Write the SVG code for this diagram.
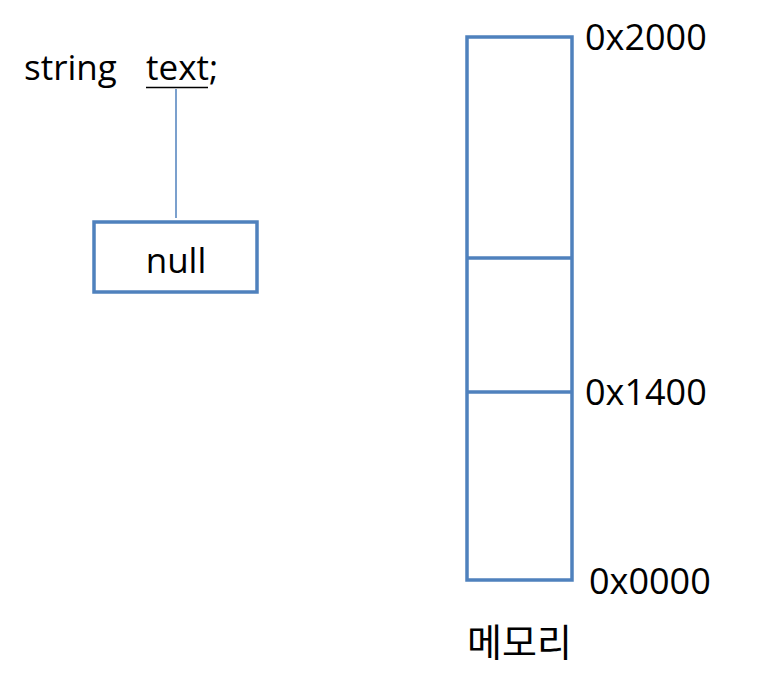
<svg xmlns="http://www.w3.org/2000/svg" width="774" height="687" viewBox="0 0 774 687">
<style>
.t{font-family:"Open Sans","Noto Sans CJK KR",sans-serif;font-size:35px;fill:#000}
.h{font-family:"Open Sans","Noto Sans CJK KR",sans-serif;font-size:36px;fill:#000}
.k{font-family:"Noto Sans CJK KR",sans-serif;font-size:38px;fill:#000}
.box{fill:#fff;stroke:#4F81BD;stroke-width:3.5}
.ln{stroke:#4F81BD;stroke-width:3.5;fill:none}
.thin{stroke:#4F81BD;stroke-width:1.5;fill:none}
</style>
<rect width="774" height="687" fill="#fff"/>
<g id="declaration">
<text class="t" x="24" y="80">string</text>
<text class="t" x="146" y="80">text;</text>
<line x1="146" y1="87.5" x2="208" y2="87.5" stroke="#000" stroke-width="1.5"/>
</g>
<g id="connectors">
<line class="thin" x1="176" y1="89" x2="176" y2="218"/>
</g>
<g id="null-box">
<rect class="box" x="94" y="222" width="163" height="70"/>
<text class="t" x="176" y="273" text-anchor="middle">null</text>
</g>
<g id="memory">
<rect class="box" x="467" y="37" width="105" height="543"/>
<line class="ln" x1="467" y1="258" x2="572" y2="258"/>
<line class="ln" x1="467" y1="392" x2="572" y2="392"/>
<text class="h" x="585" y="50">0x2000</text>
<text class="h" x="585" y="405">0x1400</text>
<text class="h" x="589" y="594">0x0000</text>
<text class="k" x="467" y="656">메모리</text>
</g>
</svg>
